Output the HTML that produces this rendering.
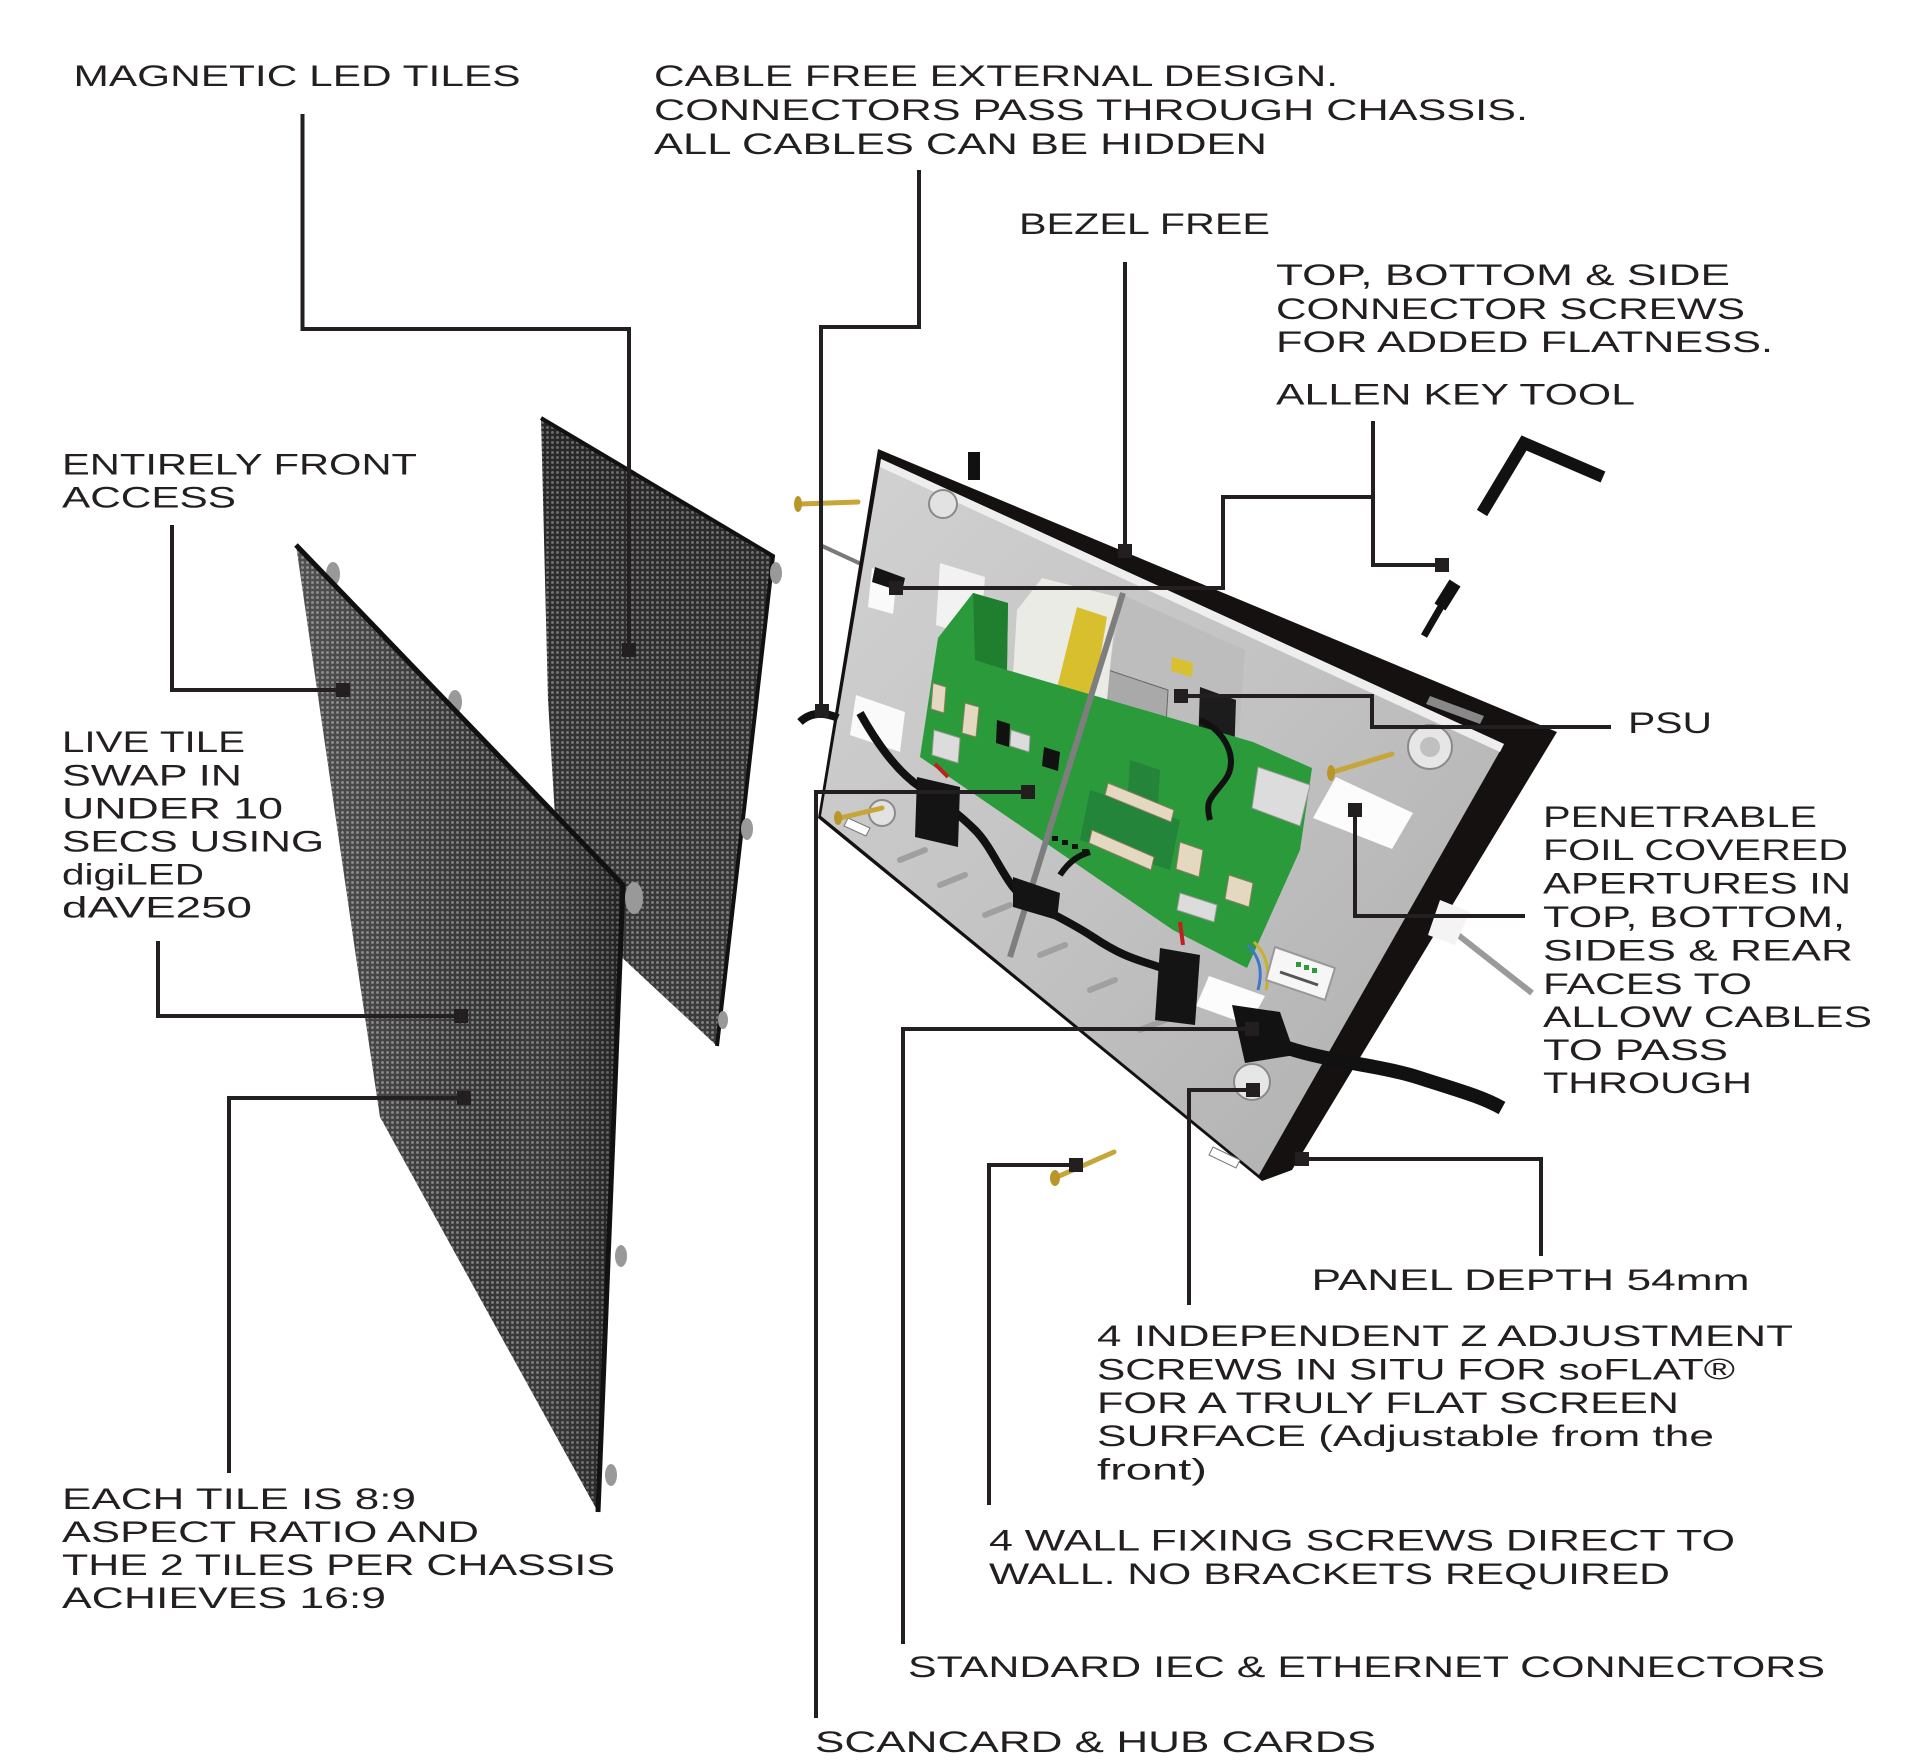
<!DOCTYPE html>
<html>
<head>
<meta charset="utf-8">
<style>
html,body{margin:0;padding:0;background:#fff}
svg{display:block}
.t{font-family:"Liberation Sans",sans-serif;font-size:30px;fill:#231f20}
</style>
</head>
<body>
<svg width="1912" height="1764" viewBox="0 0 1912 1764" xmlns="http://www.w3.org/2000/svg">
<defs>
  <pattern id="led" width="5" height="5" patternUnits="userSpaceOnUse">
    <rect width="5" height="5" fill="#2a2a2a"/>
    <circle cx="2.5" cy="2.5" r="1.5" fill="#747474"/>
  </pattern>
  <linearGradient id="frontShade" x1="0" y1="0" x2="1" y2="0">
    <stop offset="0" stop-color="#ffffff" stop-opacity="0.18"/>
    <stop offset="0.6" stop-color="#ffffff" stop-opacity="0.05"/>
    <stop offset="1" stop-color="#000000" stop-opacity="0.25"/>
  </linearGradient>
  <linearGradient id="backShade" x1="0" y1="0" x2="0" y2="1">
    <stop offset="0" stop-color="#000000" stop-opacity="0.1"/>
    <stop offset="1" stop-color="#ffffff" stop-opacity="0.08"/>
  </linearGradient>
  <linearGradient id="face" x1="0" y1="0" x2="1" y2="1">
    <stop offset="0" stop-color="#d2d2d2"/>
    <stop offset="0.5" stop-color="#c2c2c2"/>
    <stop offset="1" stop-color="#adadad"/>
  </linearGradient>
</defs>

<!-- ============ BACK TILE ============ -->
<polygon points="541,418 773,556 717,1046 560,900 548,700" fill="url(#led)"/>
<polygon points="541,418 773,556 717,1046 560,900 548,700" fill="url(#backShade)"/>
<polyline points="541,418 773,556 717,1046" fill="none" stroke="#111" stroke-width="4"/>
<ellipse cx="776" cy="573" rx="6" ry="11" fill="#999"/>
<ellipse cx="747" cy="829" rx="6" ry="11" fill="#999"/>
<ellipse cx="723" cy="1020" rx="5" ry="9" fill="#999"/>

<!-- ============ FRONT TILE ============ -->
<ellipse cx="333" cy="574" rx="7" ry="12" fill="#999"/>
<ellipse cx="455" cy="702" rx="7" ry="12" fill="#999"/>
<polygon points="296,545 623,885 598,1512 380,1117 357,964" fill="url(#led)"/>
<polygon points="296,545 623,885 598,1512 380,1117 357,964" fill="url(#frontShade)"/>
<polyline points="296,545 623,885 598,1512" fill="none" stroke="#111" stroke-width="5"/>
<ellipse cx="634" cy="898" rx="9" ry="16" fill="#999"/>
<ellipse cx="621" cy="1256" rx="6" ry="11" fill="#999"/>
<ellipse cx="611" cy="1475" rx="6" ry="11" fill="#999"/>

<!-- ============ CHASSIS ============ -->
<line x1="820" y1="545" x2="913" y2="588" stroke="#7a7a7a" stroke-width="4"/>
<line x1="1341" y1="843" x2="1532" y2="993" stroke="#9a9a9a" stroke-width="6"/>
<polygon points="878,449 1557,732 1292,1170 1262,1181 818,818" fill="#161111"/>
<polygon points="1430,696 1484,716 1480,724 1426,704" fill="#888"/>
<polygon points="881,459 1504,744 1259,1175 821,816" fill="url(#face)"/>
<polygon points="881,459 1504,744 1500,752 880,467" fill="#eeeeee"/>
<!-- apertures -->
<polygon points="872,568 897,575 893,614 868,607" fill="#fafafa"/>
<polygon points="940,563 985,577 980,640 936,625" fill="#f2f2f2"/>
<polygon points="856,695 905,712 900,752 850,735" fill="#fafafa"/>
<polygon points="1336,777 1413,813 1392,849 1313,818" fill="#fcfcfc"/>
<polygon points="1209,976 1265,996 1249,1025 1196,1006" fill="#fcfcfc"/>
<polygon points="1440,900 1470,912 1455,945 1428,935" fill="#f4f4f4"/>
<!-- bosses -->
<circle cx="943" cy="504" r="14" fill="#e2e2e2" stroke="#8a8a8a" stroke-width="2"/>
<circle cx="1430" cy="747" r="22" fill="#e6e6e6" stroke="#8a8a8a" stroke-width="2"/>
<circle cx="1430" cy="747" r="10" fill="#c0c0c0"/>
<circle cx="1252" cy="1082" r="18" fill="#e6e6e6" stroke="#8a8a8a" stroke-width="2"/>
<circle cx="882" cy="813" r="13" fill="#e2e2e2" stroke="#8a8a8a" stroke-width="2"/>
<polygon points="848,818 870,828 866,836 844,826" fill="#fff" stroke="#777" stroke-width="1"/>
<polygon points="1213,1147 1240,1160 1236,1168 1209,1155" fill="#fff" stroke="#777" stroke-width="1"/>
<g stroke="#a0a0a0" stroke-width="6" stroke-linecap="round">
  <line x1="900" y1="860" x2="925" y2="850"/>
  <line x1="940" y1="885" x2="965" y2="875"/>
  <line x1="985" y1="915" x2="1010" y2="905"/>
  <line x1="1040" y1="955" x2="1065" y2="945"/>
  <line x1="1090" y1="990" x2="1115" y2="980"/>
  <line x1="1140" y1="1030" x2="1165" y2="1020"/>
</g>
<rect x="968" y="452" width="12" height="28" fill="#111"/>

<!-- PSU -->
<polygon points="1123,595 1245,650 1238,750 1100,717" fill="#bdbdbd"/>
<polygon points="1108,670 1168,690 1165,742 1103,720" fill="#a9a9a9" stroke="#666" stroke-width="1"/>
<polygon points="1172,657 1193,663 1192,677 1171,671" fill="#d9c030"/>
<polygon points="1042,578 1117,597 1107,700 1013,675 1017,610" fill="#ebebe6"/>
<polygon points="1077,607 1107,617 1093,700 1057,688" fill="#d8bf2e"/>
<polygon points="1200,687 1236,700 1234,760 1198,748" fill="#1c1c1c"/>

<!-- Green PCB -->
<polygon points="938,638 973,593 1008,603 1007,670 1253,742 1312,768 1300,850 1247,968 1173,930 920,757" fill="#2b9a3a"/>
<polygon points="973,593 1008,603 1007,670 975,660" fill="#1f7f2f"/>
<polygon points="1090,790 1180,820 1170,870 1080,840" fill="#22853a"/>
<polygon points="1130,760 1160,770 1155,850 1125,840" fill="#23843a"/>
<g fill="#e4d9c0" stroke="#8a7d60" stroke-width="1">
  <polygon points="933,683 946,687 944,713 931,709"/>
  <polygon points="965,703 979,707 976,737 962,733"/>
  <polygon points="1108,783 1174,810 1171,822 1105,795"/>
  <polygon points="1092,830 1154,857 1151,870 1089,843"/>
  <polygon points="1180,842 1203,850 1199,877 1176,869"/>
  <polygon points="1229,875 1253,883 1249,907 1225,899"/>
</g>
<g fill="#dcdcdc" stroke="#999" stroke-width="1">
  <polygon points="934,730 960,738 958,763 932,755"/>
  <polygon points="1011,730 1030,736 1029,752 1010,746"/>
  <polygon points="1180,893 1217,905 1214,922 1177,910"/>
  <polygon points="1258,767 1310,785 1300,826 1252,808"/>
</g>
<polygon points="997,720 1010,724 1009,747 996,743" fill="#111"/>
<polygon points="1044,747 1060,752 1058,771 1042,766" fill="#111"/>
<g fill="#111">
  <rect x="1052" y="836" width="6" height="5"/>
  <rect x="1062" y="840" width="6" height="5"/>
  <rect x="1072" y="844" width="6" height="5"/>
  <rect x="1082" y="849" width="6" height="5"/>
</g>

<line x1="1123" y1="593" x2="1010" y2="957" stroke="#7e7e7e" stroke-width="6"/>

<!-- cables -->
<path d="M860,713 C875,740 895,770 920,787 S960,815 975,830 S1000,870 1013,887 S1060,915 1093,937 S1140,960 1162,968" fill="none" stroke="#111" stroke-width="8"/>
<path d="M1200,720 C1225,730 1240,760 1225,780 S1205,800 1210,820" fill="none" stroke="#111" stroke-width="6"/>
<path d="M1060,875 C1070,860 1080,855 1090,852" fill="none" stroke="#111" stroke-width="6"/>
<polygon points="917,777 960,787 958,847 915,837" fill="#141414"/>
<polygon points="1013,877 1060,893 1057,920 1013,907" fill="#141414"/>
<polygon points="1160,948 1200,955 1195,1025 1155,1020" fill="#141414"/>
<polygon points="1232,1005 1280,1012 1295,1055 1245,1063" fill="#121212"/>
<path d="M1288,1048 C1330,1062 1380,1065 1420,1078 S1480,1096 1502,1108" fill="none" stroke="#111" stroke-width="14"/>
<path d="M800,722 Q815,708 838,718" fill="none" stroke="#111" stroke-width="8"/>
<polygon points="875,567 905,578 902,592 872,582" fill="#141414"/>
<line x1="935" y1="764" x2="948" y2="777" stroke="#c02020" stroke-width="4"/>
<line x1="1180" y1="922" x2="1183" y2="945" stroke="#c02020" stroke-width="4"/>
<path d="M1248,945 C1262,960 1262,975 1258,990" fill="none" stroke="#3a7ac8" stroke-width="3"/>
<path d="M1254,942 C1268,956 1270,972 1266,990" fill="none" stroke="#c8b030" stroke-width="3"/>
<polygon points="1275,947 1335,968 1325,1000 1266,980" fill="#f6f6f6" stroke="#999" stroke-width="2"/>
<g fill="#2a9a3a"><rect x="1296" y="962" width="5" height="5"/><rect x="1304" y="965" width="5" height="5"/><rect x="1312" y="968" width="5" height="5"/></g>
<line x1="1280" y1="972" x2="1318" y2="985" stroke="#555" stroke-width="3"/>

<!-- gold screws -->
<g stroke="#c6a638" stroke-linecap="round">
  <line x1="800" y1="504" x2="858" y2="502" stroke-width="5"/>
  <line x1="840" y1="818" x2="882" y2="808" stroke-width="5"/>
  <line x1="1333" y1="772" x2="1392" y2="754" stroke-width="5"/>
  <line x1="1057" y1="1177" x2="1114" y2="1152" stroke-width="5"/>
</g>
<g fill="#b8962a">
  <ellipse cx="798" cy="504" rx="4" ry="8"/>
  <ellipse cx="838" cy="818" rx="4" ry="7"/>
  <ellipse cx="1331" cy="773" rx="4" ry="8"/>
  <ellipse cx="1055" cy="1178" rx="5" ry="8"/>
</g>

<!-- Allen key & connector screw -->
<polyline points="1482,513 1524,443 1603,477" fill="none" stroke="#111" stroke-width="12" stroke-linejoin="miter"/>
<line x1="1455" y1="583" x2="1440" y2="607" stroke="#111" stroke-width="13"/>
<line x1="1442" y1="605" x2="1424" y2="636" stroke="#111" stroke-width="7"/>

<!-- ============ CONNECTOR LINES ============ -->
<g fill="none" stroke="#231f20" stroke-width="4" stroke-linejoin="miter">
  <polyline points="302.5,114 302.5,329 629,329 629,650"/>
  <polyline points="919,170 919,327 821,327 821,711"/>
  <polyline points="1125,262 1125,551"/>
  <polyline points="896,588 1223,588 1223,497 1373,497"/>
  <polyline points="1373,421 1373,565 1442,565"/>
  <polyline points="1181,696 1372,696 1372,727 1611,727"/>
  <polyline points="1355,810 1355,916 1525,916"/>
  <polyline points="1028,792 816,792 816,1718"/>
  <polyline points="1252,1029 903,1029 903,1644"/>
  <polyline points="1253,1090 1189,1090 1189,1305"/>
  <polyline points="1076,1165 989,1165 989,1505"/>
  <polyline points="1302,1159 1541,1159 1541,1256"/>
  <polyline points="172,525 172,690 343,690"/>
  <polyline points="158,941 158,1016 461,1016"/>
  <polyline points="464,1098 229,1098 229,1473"/>
</g>
<g fill="#231f20">
  <rect x="622" y="643" width="14" height="14"/>
  <rect x="815" y="704" width="14" height="14"/>
  <rect x="1118" y="544" width="14" height="14"/>
  <rect x="889" y="581" width="14" height="14"/>
  <rect x="1435" y="558" width="14" height="14"/>
  <rect x="1174" y="689" width="14" height="14"/>
  <rect x="1348" y="803" width="14" height="14"/>
  <rect x="1021" y="785" width="14" height="14"/>
  <rect x="1245" y="1022" width="14" height="14"/>
  <rect x="1246" y="1083" width="14" height="14"/>
  <rect x="1069" y="1158" width="14" height="14"/>
  <rect x="1295" y="1152" width="14" height="14"/>
  <rect x="336" y="683" width="14" height="14"/>
  <rect x="454" y="1009" width="14" height="14"/>
  <rect x="457" y="1091" width="14" height="14"/>
</g>

<!-- ============ TEXT ============ -->
<text class="t" x="73.5" y="86" textLength="447" lengthAdjust="spacingAndGlyphs">MAGNETIC LED TILES</text>
<text class="t" x="654" y="86" textLength="684" lengthAdjust="spacingAndGlyphs">CABLE FREE EXTERNAL DESIGN.</text>
<text class="t" x="654" y="120" textLength="874" lengthAdjust="spacingAndGlyphs">CONNECTORS PASS THROUGH CHASSIS.</text>
<text class="t" x="654" y="154" textLength="613" lengthAdjust="spacingAndGlyphs">ALL CABLES CAN BE HIDDEN</text>
<text class="t" x="1019" y="234" textLength="251" lengthAdjust="spacingAndGlyphs">BEZEL FREE</text>
<text class="t" x="1276" y="285" textLength="454" lengthAdjust="spacingAndGlyphs">TOP, BOTTOM &amp; SIDE</text>
<text class="t" x="1276" y="319" textLength="469" lengthAdjust="spacingAndGlyphs">CONNECTOR SCREWS</text>
<text class="t" x="1276" y="352" textLength="497" lengthAdjust="spacingAndGlyphs">FOR ADDED FLATNESS.</text>
<text class="t" x="1276" y="404.5" textLength="359" lengthAdjust="spacingAndGlyphs">ALLEN KEY TOOL</text>

<text class="t" x="62" y="474.5" textLength="355" lengthAdjust="spacingAndGlyphs">ENTIRELY FRONT</text>
<text class="t" x="62" y="507.5" textLength="174" lengthAdjust="spacingAndGlyphs">ACCESS</text>

<text class="t" x="62" y="752" textLength="183" lengthAdjust="spacingAndGlyphs">LIVE TILE</text>
<text class="t" x="62" y="785.5" textLength="180" lengthAdjust="spacingAndGlyphs">SWAP IN</text>
<text class="t" x="62" y="818.5" textLength="221" lengthAdjust="spacingAndGlyphs">UNDER 10</text>
<text class="t" x="62" y="851.5" textLength="262" lengthAdjust="spacingAndGlyphs">SECS USING</text>
<text class="t" x="62" y="884.5" textLength="142" lengthAdjust="spacingAndGlyphs">digiLED</text>
<text class="t" x="62" y="917.5" textLength="190" lengthAdjust="spacingAndGlyphs">dAVE250</text>

<text class="t" x="62" y="1509" textLength="354" lengthAdjust="spacingAndGlyphs">EACH TILE IS 8:9</text>
<text class="t" x="62" y="1542" textLength="417" lengthAdjust="spacingAndGlyphs">ASPECT RATIO AND</text>
<text class="t" x="62" y="1575" textLength="553" lengthAdjust="spacingAndGlyphs">THE 2 TILES PER CHASSIS</text>
<text class="t" x="62" y="1608" textLength="324" lengthAdjust="spacingAndGlyphs">ACHIEVES 16:9</text>

<text class="t" x="1628" y="733" textLength="84" lengthAdjust="spacingAndGlyphs">PSU</text>

<text class="t" x="1543" y="827" textLength="274" lengthAdjust="spacingAndGlyphs">PENETRABLE</text>
<text class="t" x="1543" y="860" textLength="305" lengthAdjust="spacingAndGlyphs">FOIL COVERED</text>
<text class="t" x="1543" y="893.5" textLength="308" lengthAdjust="spacingAndGlyphs">APERTURES IN</text>
<text class="t" x="1543" y="927" textLength="302" lengthAdjust="spacingAndGlyphs">TOP, BOTTOM,</text>
<text class="t" x="1543" y="960.5" textLength="310" lengthAdjust="spacingAndGlyphs">SIDES &amp; REAR</text>
<text class="t" x="1543" y="994" textLength="209" lengthAdjust="spacingAndGlyphs">FACES TO</text>
<text class="t" x="1543" y="1027" textLength="329" lengthAdjust="spacingAndGlyphs">ALLOW CABLES</text>
<text class="t" x="1543" y="1060" textLength="185" lengthAdjust="spacingAndGlyphs">TO PASS</text>
<text class="t" x="1543" y="1093" textLength="209" lengthAdjust="spacingAndGlyphs">THROUGH</text>

<text class="t" x="1311.5" y="1290" textLength="438" lengthAdjust="spacingAndGlyphs">PANEL DEPTH 54mm</text>

<text class="t" x="1097" y="1346" textLength="696" lengthAdjust="spacingAndGlyphs">4 INDEPENDENT Z ADJUSTMENT</text>
<text class="t" x="1097" y="1379.5" textLength="638" lengthAdjust="spacingAndGlyphs">SCREWS IN SITU FOR soFLAT®</text>
<text class="t" x="1097" y="1413" textLength="582" lengthAdjust="spacingAndGlyphs">FOR A TRULY FLAT SCREEN</text>
<text class="t" x="1097" y="1446" textLength="617" lengthAdjust="spacingAndGlyphs">SURFACE (Adjustable from the</text>
<text class="t" x="1097" y="1479.5" textLength="110" lengthAdjust="spacingAndGlyphs">front)</text>

<text class="t" x="989" y="1550.5" textLength="746" lengthAdjust="spacingAndGlyphs">4 WALL FIXING SCREWS DIRECT TO</text>
<text class="t" x="989" y="1584" textLength="681" lengthAdjust="spacingAndGlyphs">WALL. NO BRACKETS REQUIRED</text>

<text class="t" x="908" y="1677" textLength="917" lengthAdjust="spacingAndGlyphs">STANDARD IEC &amp; ETHERNET CONNECTORS</text>
<text class="t" x="815" y="1752" textLength="561" lengthAdjust="spacingAndGlyphs">SCANCARD &amp; HUB CARDS</text>
</svg>
</body>
</html>
